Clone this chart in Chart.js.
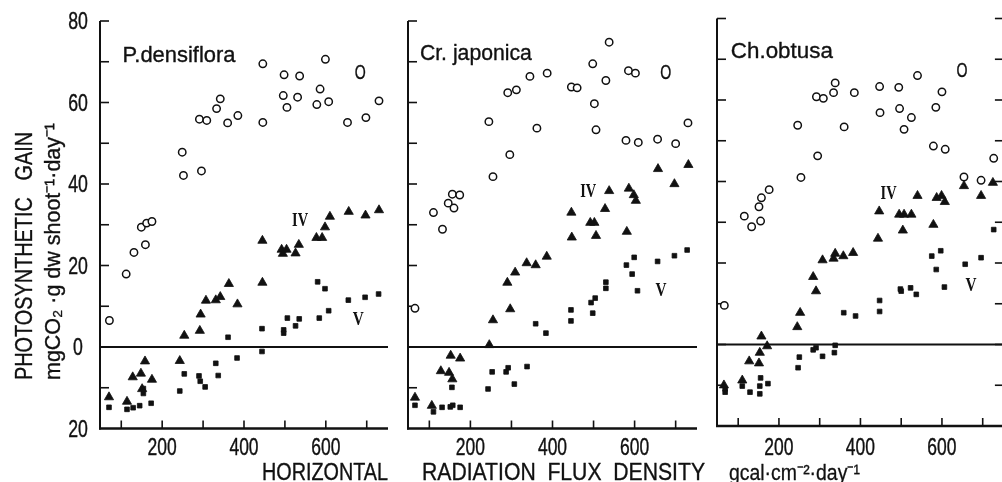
<!DOCTYPE html>
<html>
<head>
<meta charset="utf-8">
<script src="https://cdn.jsdelivr.net/npm/chart.js@4.4.1/dist/chart.umd.min.js"></script>
<style>
html,body{margin:0;padding:0;background:#fff;}
#wrap{position:relative;width:1002px;height:482px;overflow:hidden;background:#fff;}
#wrap canvas{position:absolute;left:0;top:0;}
</style>
</head>
<body>
<div id="wrap">
<canvas id="c1" width="1010" height="482"></canvas>
<canvas id="c2" width="1010" height="482"></canvas>
<canvas id="c3" width="1010" height="482"></canvas>
</div>
<script>
// ---------------- data ----------------
const xMin = 48, xMax = 752, yMin = -20, yMax = 80;
const xTickValues = [100, 200, 300, 400, 500, 600, 700];
const xLabelValues = [200, 400, 600];
const yTickValues = [-10, 0, 10, 20, 30, 40, 50, 60, 70, 80];
const yLabelValues = [80, 60, 40, 20, 0, -20];
const yLabelTexts = ['80', '60', '40', '20', '0', '20'];
const speciesNames = ['P.densiflora', 'Cr. japonica', 'Ch.obtusa'];
const groupLabels = ['O', 'IV', 'V'];
const yTitleLines = ['PHOTOSYNTHETIC   GAIN', 'mgCO\u2082 \u00b7g dw shoot\u207b\u00b9\u00b7day\u207b\u00b9'];
const xTitleParts = ['HORIZONTAL', 'RADIATION  FLUX  DENSITY', 'gcal\u00b7cm\u207b\u00b2\u00b7day\u207b\u00b9'];

// P. densiflora
const pdOpen = [[71,6.5],[112,17.9],[131,23.2],[159,25.1],[149,29.4],[162,30.4],[175,30.8],
  [249,47.8],[252,42.1],[296,43.2],[291,55.9],[309,55.6],[333,58.5],[342,60.9],[360,55],[385,56.8],
  [446,69.5],[446,55.1],[498,66.8],[496,61.7],[505,58.8],[536,66.5],[531,61.3],[586,63.3],[578,59.5],
  [599,70.6],[607,60.2],[653,55.1],[698,56.3],[730,60.4]];
const pdTri = [[70,-12.3],[114,-13.4],[128,-7.4],[148,-6.5],[158,-3.5],[151,-10.3],[175,-8],[243,-3.4],
  [254,2.8],[292,4],[294,8],[307,11.4],[331,11.5],[342,12.3],[363,15.5],[384,10.5],[445,15.8],[445,26.1],
  [492,23.9],[495,22.9],[504,23.9],[526,23],[534,25.1],[577,26.8],[591,26.8],[598,29.4],[610,32],
  [656,33.2],[697,32.3],[730,33.6]];
const pdSq = [[70,-14.8],[114,-15.3],[129,-14.9],[145,-14.4],[173,-13.8],[154,-10.2],[154,-11.4],
  [243,-10.8],[254,-6.6],[290,-7.1],[293,-8.4],[305,-9.8],[331,-4],[337,-7],[361,2.4],[383,-2.7],
  [444,4.5],[444,-1.1],[497,4.2],[497,3.4],[506,7.1],[526,5.2],[535,6.9],[580,16],[584,7.1],
  [598,14.3],[607,8.9],[655,11.5],[696,12.2],[729,13]];

// Cr. japonica
const cjOpen = [[65,9.5],[110,33],[132,28.9],[146,35.3],[156,37.5],[160,34.1],[174,37.3],[245,55.3],
  [255,41.8],[291,62.4],[296,47.2],[312,63.1],[345,66.4],[362,53.7],[387,67.2],[446,63.8],[460,63.6],
  [498,69.5],[502,59.7],[506,53.3],[530,65.4],[538,74.8],[579,50.7],[585,67.8],[602,67.2],[609,50.2],
  [656,51],[700,49.9],[730,55]];
const cjTri = [[65,-12.4],[106,-14.4],[128,-5.9],[148,-6.3],[156,-7.9],[152,-2.1],[175,-2.8],[246,0.5],
  [255,6.6],[290,15.8],[297,9.3],[309,18.3],[337,20.6],[359,20.1],[386,22.2],[446,33],[447,26.9],
  [492,30.5],[502,30.5],[506,27.3],[528,33.9],[538,38.3],[581,28.3],[586,38.9],[598,37.3],[603,35.9],
  [657,43.7],[697,40],[731,44.7]];
const cjSq = [[65,-14.3],[110,-15.9],[131,-14.8],[151,-14.7],[157,-14.3],[175,-14.8],[155,-9.9],
  [243,-10.3],[253,-6.1],[287,-6.1],[292,-5.1],[307,-9.1],[338,-4.8],[359,5.7],[384,3.4],[445,9.1],
  [445,6.4],[494,10.9],[498,8.3],[504,12],[530,15.9],[530,14.4],[580,20.1],[594,17.9],[599,22],
  [607,13.8],[656,21],[697,22.4],[728,23.8]];

// Ch. obtusa
const coOpen = [[66,9.6],[115,31.5],[133,28.9],[151,33.8],[155,30.3],[157,36],[176,38],[246,53.8],
  [254,41],[292,60.8],[295,46.3],[309,60.4],[334,61.8],[338,64.2],[360,53.4],[385,61.8],[447,63.3],
  [448,56.9],[494,63.1],[496,57.9],[507,52.8],[525,55.7],[540,66],[579,48.7],[585,58.2],[600,62],
  [608,47.9],[654,41.1],[696,40.3],[727,45.7]];
const coTri = [[65,-10],[110,-8.8],[127,-4.1],[151,-4.6],[153,-2],[157,2],[171,-0.4],[245,4.3],
  [252,7.8],[284,16.6],[291,13.1],[307,20.7],[334,21.1],[338,22.3],[358,21.7],[382,22.5],[443,26],
  [446,32.7],[495,31.9],[504,28],[507,31.9],[525,31.9],[540,36.5],[579,29.4],[587,36],[599,36.5],
  [607,35],[654,38.9],[696,36.5],[725,39.7]];
const coSq = [[68,-11.7],[68,-10.9],[110,-10.2],[129,-11.7],[153,-12.1],[153,-10.2],[155,-8.2],
  [173,-9.6],[247,-5.7],[250,-3.1],[284,-1.3],[291,-0.8],[307,-2.9],[336,-2],[338,-0.2],[359,7.8],
  [388,7],[447,10.8],[447,8.1],[498,13.6],[500,13.1],[523,13.9],[537,12.3],[575,21.7],[586,18.4],
  [597,23],[606,14.1],[657,19.7],[696,21.3],[727,28.2]];

// annotation anchors (data coordinates)
const pdLabelAt = [[684,67.6],[537,31.2],[679,6.9]];
const cjLabelAt = [[676,67.6],[487,38.4],[664,14]];
const coLabelAt = [[649,67.3],[469,37.1],[671,14.5]];
const speciesAt = [[103,70],[77,70.5],[82,70.3]];

// ---------------- drawing helpers ----------------
const INK = '#111';
const SANS = '"Liberation Sans", Arial, sans-serif';
const SERIF = '"Liberation Serif", "Times New Roman", serif';

function paintText(ctx, text, dx, weight) {
  ctx.fillStyle = INK;
  ctx.fillText(text, dx, 0);
  if (weight) {
    ctx.strokeStyle = INK;
    ctx.lineWidth = weight;
    ctx.lineJoin = 'round';
    ctx.strokeText(text, dx, 0);
  }
}
function fitText(ctx, text, x, y, width, font, align, weight) {
  ctx.save();
  ctx.font = font;
  ctx.textBaseline = 'alphabetic';
  ctx.textAlign = 'left';
  const w = ctx.measureText(text).width;
  const s = width ? width / w : 1;
  ctx.translate(x, y);
  ctx.scale(s, 1);
  let dx = 0;
  if (align === 'right') dx = -w; else if (align === 'center') dx = -w / 2;
  paintText(ctx, text, dx, weight === undefined ? 0.35 : weight);
  ctx.restore();
}
function scaledText(ctx, text, x, y, size, hs, family, align) {
  ctx.save();
  ctx.font = size + 'px ' + family;
  ctx.textBaseline = 'alphabetic';
  ctx.textAlign = 'left';
  const w = ctx.measureText(text).width;
  ctx.translate(x, y);
  ctx.scale(hs, 1);
  let dx = 0;
  if (align === 'right') dx = -w; else if (align === 'center') dx = -w / 2;
  paintText(ctx, text, dx, 0.4);
  ctx.restore();
}
function line(ctx, x1, y1, x2, y2, w) {
  ctx.beginPath();
  ctx.lineWidth = w;
  ctx.moveTo(x1, y1);
  ctx.lineTo(x2, y2);
  ctx.stroke();
}

const panelDeco = {
  id: 'panelDeco',
  beforeDatasetsDraw(chart, args, o) {
    const ctx = chart.ctx, a = chart.chartArea;
    const xs = chart.scales.x, ys = chart.scales.y;
    ctx.save();
    ctx.strokeStyle = INK;
    ctx.lineCap = 'butt';
    // axes
    line(ctx, a.left, a.top, a.left, a.bottom + 1, 2);
    line(ctx, a.left - 1, a.bottom, a.right, a.bottom, 2.4);
    if (o.right) line(ctx, a.right, a.top, a.right, a.bottom, 2);
    // zero line
    const y0 = ys.getPixelForValue(0);
    line(ctx, a.left, y0, a.right, y0, 2);
    // y ticks (inward)
    yTickValues.forEach(v => {
      const p = ys.getPixelForValue(v);
      line(ctx, a.left, p, a.left + 9, p, 1.6);
      if (o.right) line(ctx, a.right - 9, p, a.right, p, 1.6);
    });
    // x ticks (inward)
    xTickValues.forEach(v => {
      const p = xs.getPixelForValue(v);
      line(ctx, p, a.bottom, p, a.bottom - 8, 1.6);
    });
    ctx.restore();
  },
  afterDatasetsDraw(chart, args, o) {
    const ctx = chart.ctx;
    const xs = chart.scales.x, ys = chart.scales.y;
    // x tick labels
    xLabelValues.forEach(v => {
      scaledText(ctx, String(v), xs.getPixelForValue(v), 455, 23, 0.76, SANS, 'center');
    });
    // y tick labels
    if (o.yLabels) {
      yLabelValues.forEach((v, i) => {
        scaledText(ctx, yLabelTexts[i], 78, ys.getPixelForValue(v) + 8.2, 23, 0.77, SANS, 'center');
      });
    }
    // species label
    const sp = speciesAt[o.index];
    fitText(ctx, speciesNames[o.index], xs.getPixelForValue(sp[0]), ys.getPixelForValue(sp[1]),
      o.speciesWidth, '22px ' + SANS, 'left', 0.35);
    // group labels O, IV, V
    const la = o.labelAt;
    fitText(ctx, groupLabels[0], xs.getPixelForValue(la[0][0]), ys.getPixelForValue(la[0][1]) + 7,
      11, '20px ' + SANS, 'center', 0.4);
    fitText(ctx, groupLabels[1], xs.getPixelForValue(la[1][0]), ys.getPixelForValue(la[1][1]) + 6,
      16, 'bold 18px ' + SERIF, 'center', 0);
    fitText(ctx, groupLabels[2], xs.getPixelForValue(la[2][0]), ys.getPixelForValue(la[2][1]) + 6,
      11, 'bold 18px ' + SERIF, 'center', 0);
    // axis titles
    if (o.titles) {
      [[yTitleLines[0], 32, 380, 248, 23], [yTitleLines[1], 60, 380, 257, 22]].forEach(t => {
        ctx.save();
        ctx.font = t[4] + 'px ' + SANS;
        ctx.textBaseline = 'alphabetic';
        ctx.textAlign = 'left';
        const w = ctx.measureText(t[0]).width;
        ctx.translate(t[1], t[2]);
        ctx.rotate(-Math.PI / 2);
        ctx.scale(t[3] / w, 1);
        paintText(ctx, t[0], 0, 0.35);
        ctx.restore();
      });
      fitText(ctx, xTitleParts[0], 388, 480, 126, '23px ' + SANS, 'right', 0.35);
      fitText(ctx, xTitleParts[1], 422, 480, 283, '23px ' + SANS, 'left', 0.35);
      fitText(ctx, xTitleParts[2], 729, 480, 131, '22px ' + SANS, 'left', 0.3);
    }
  }
};

function toPts(arr) { return arr.map(p => ({ x: p[0], y: p[1] })); }

function makePanel(id, area, open, tri, sq, deco) {
  return new Chart(document.getElementById(id), {
    type: 'scatter',
    data: {
      datasets: [
        { label: 'open', data: toPts(open), pointStyle: 'circle', pointRadius: 3.7, pointBorderWidth: 1.5,
          pointBackgroundColor: '#fff', pointBorderColor: INK, backgroundColor: '#fff', borderColor: INK },
        { label: 'tri', data: toPts(tri), pointStyle: 'triangle', pointRadius: 5.3, pointBorderWidth: 0.8,
          pointBackgroundColor: INK, pointBorderColor: INK, backgroundColor: INK, borderColor: INK },
        { label: 'sq', data: toPts(sq), pointStyle: 'rect', pointRadius: 3.3, pointBorderWidth: 0.8,
          pointBackgroundColor: INK, pointBorderColor: INK, backgroundColor: INK, borderColor: INK }
      ]
    },
    options: {
      responsive: false,
      animation: false,
      devicePixelRatio: 1,
      events: [],
      layout: { padding: { left: area.l, right: 1010 - area.r, top: area.t, bottom: 482 - area.b } },
      scales: {
        x: { type: 'linear', min: xMin, max: xMax, display: false },
        y: { type: 'linear', min: yMin, max: yMax, display: false }
      },
      plugins: { legend: { display: false }, tooltip: { enabled: false }, panelDeco: deco }
    },
    plugins: [panelDeco]
  });
}

makePanel('c1', { l: 100, r: 388, t: 21, b: 428.5 }, pdOpen, pdTri, pdSq,
  { index: 0, yLabels: true, titles: true, right: false, labelAt: pdLabelAt, speciesWidth: 113 });
makePanel('c2', { l: 408, r: 697, t: 21, b: 428.5 }, cjOpen, cjTri, cjSq,
  { index: 1, yLabels: false, titles: false, right: false, labelAt: cjLabelAt, speciesWidth: 112 });
makePanel('c3', { l: 717, r: 1006, t: 18.5, b: 426 }, coOpen, coTri, coSq,
  { index: 2, yLabels: false, titles: false, right: true, labelAt: coLabelAt, speciesWidth: 102 });
</script>
</body>
</html>
